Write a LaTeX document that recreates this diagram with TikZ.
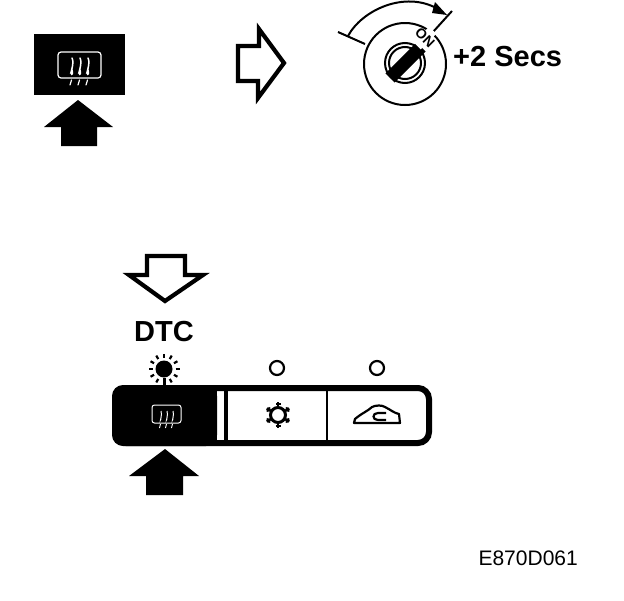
\documentclass[tikz,border=0pt]{standalone}
\usepackage{fontspec}
\setmainfont{Liberation Sans}
\usetikzlibrary{arrows.meta}
\tikzset{
  solidarrow/.style={fill=black,draw=none},
  hollowarrow/.style={draw=black,line width=4.2pt,fill=white,line join=miter,miter limit=10},
  whiteline/.style={draw=white,line width=1.2pt,line cap=round},
  blackline/.style={draw=black,line width=2pt},
  led/.style={draw=black,line width=2.2pt,fill=white,circle,minimum size=14pt,inner sep=0pt},
  bold/.style={font=\fontsize{#1}{#1}\selectfont\bfseries,inner sep=0pt,text=black},
  plain/.style={font=\fontsize{#1}{#1}\selectfont,inner sep=0pt,text=black},
}
\begin{document}
\begin{tikzpicture}[x=1pt,y=-1pt]
\useasboundingbox (0,0) rectangle (624,600);
\fill[white] (0,0) rectangle (624,600);

% top-left switch
\fill[black] (34,34) rectangle (125,95);
\draw[whiteline,rounded corners=3pt] (58,52) rectangle (101,78);
\foreach \x in {72,80,88}{
  \draw[whiteline,line width=1.5pt] (\x,58) .. controls +(3,5) and +(-3,7) .. +(0,12) .. controls +(1,3) and +(1,3) .. +(-1,15);
  \draw[whiteline] (\x-0.5,80) -- (\x-2,85);
}
\draw[solidarrow] (78,100) -- (113,127) -- (97,127) -- (97,146) -- (61,146) -- (61,127) -- (44,127) -- cycle;

% hollow right arrow
\draw[hollowarrow] (238,46) -- (259,46) -- (259,29) -- (284,63) -- (258,98) -- (258,81) -- (238,81) -- cycle;

% ignition key
\draw[blackline] (405,64) circle (41);
\draw[blackline] (405,63) circle (20);
\draw[blackline] (405,63) circle (16);
\draw[black,line width=13pt] (390,78) -- (421,47);
\draw[blackline] (338,32) -- (365,44);
\draw[blackline] (452,11) -- (433,32);
\draw[blackline] (348,36) .. controls (362,10) and (405,-10) .. (438,9);
\fill[black] (447,15) -- (435,2) -- (432,13) -- cycle;
\fill[white,rotate around={45:(425,38)}] (414,33) rectangle (436,43);
\node[bold=14,rotate=-45] (on) at (425,38) {ON};
\node[bold=29,anchor=west] (secs) at (453,57) {+2 Secs};

% hollow down arrow
\draw[hollowarrow] (147,256) -- (185,256) -- (185,275) -- (203,275) -- (165,301) -- (129,275) -- (147,275) -- cycle;
\node[bold=29] (dtc) at (164,332) {DTC};

% sun
\fill[black] (164,369) circle (8.5);
\foreach \a in {0,30,...,330}{
  \draw[black,line width=2.2pt] (164,369) ++(\a:11.5) -- ++(\a:4);
}
\fill[black] (163,378) rectangle (166,386);
% LEDs
\node[led] (led2) at (277,368) {};
\node[led] (led3) at (377,368) {};

% panel
\draw[black,line width=6pt,rounded corners=11pt,fill=white] (115,388) rectangle (429,443);
\fill[black,rounded corners=11pt] (112,385) -- (112,446) -- (217,446) -- (217,385) -- cycle;
\fill[black] (200,385) rectangle (217,446);
\fill[black] (224,385) rectangle (228,446);
\draw[black,line width=2.4pt] (327,388) -- (327,444);

% panel defrost icon
\draw[draw=white,line width=1pt,rounded corners=2.5pt] (152,405) rectangle (181,423);
\foreach \x in {161,167,173}{
  \draw[draw=white,line width=1pt] (\x,411) .. controls +(1.5,3) and +(-1.5,4) .. +(0,8);
  \draw[draw=white,line width=0.9pt] (\x-0.5,424) -- (\x-1.5,428);
}

% snowflake
\draw[black,line width=3pt] (278,415) circle (7.5);
\foreach \a in {0,60,...,300}{
  \draw[black,line width=2.6pt] (278,415) ++(\a+30:8) -- ++(\a+30:5);
  \draw[black,line width=2pt] (278,415) ++(\a+30:11) ++(\a+120:2.5) -- ++(\a-60:5);
}

% car / windshield icon
\draw[black,line width=2.2pt,line join=round] (354,423) -- (355,419) .. controls (362,413) and (368,411) .. (372,407) .. controls (376,405) and (382,405) .. (385,407) .. controls (391,410) and (394,413) .. (399,414) -- (400,423) -- cycle;
\draw[black,line width=2.2pt] (386,413) -- (378,413) .. controls (372,413) and (372,420) .. (378,420) -- (386,420);

% lower black arrow
\draw[solidarrow] (165,449) -- (199,476) -- (183,476) -- (183,495) -- (146,495) -- (146,476) -- (129,476) -- cycle;

\node[plain=21,anchor=east] (code) at (578,558) {E870D061};
\end{tikzpicture}
\end{document}
